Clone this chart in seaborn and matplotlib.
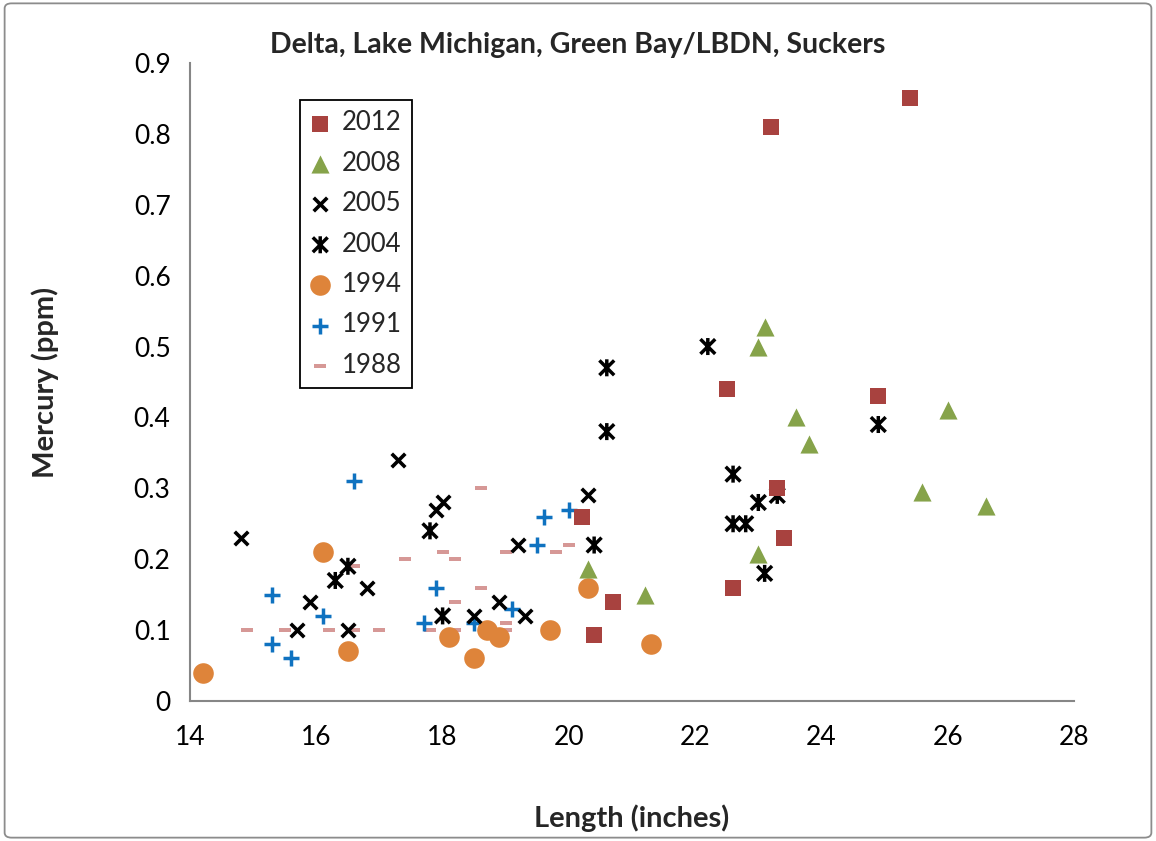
import numpy as np
import pandas as pd
import matplotlib
matplotlib.use("Agg")
import matplotlib.pyplot as plt
import matplotlib.patches as mpatches
from matplotlib.path import Path
from matplotlib.ticker import FixedLocator
import seaborn as sns

# data
x_2012 = [20.2, 20.4, 20.7, 22.5, 22.6, 23.2, 23.3, 23.4, 24.9, 25.4]
y_2012 = [0.26, 0.093, 0.14, 0.44, 0.16, 0.81, 0.30, 0.23, 0.43, 0.85]

x_2008 = [20.3, 21.2, 23.0, 23.0, 23.1, 23.6, 23.8, 25.6, 26.0, 26.6]
y_2008 = [0.186, 0.15, 0.207, 0.50, 0.527, 0.40, 0.362, 0.295, 0.41, 0.275]

x_2005 = [14.8, 15.7, 15.9, 16.5, 16.8, 17.3, 17.9, 18.0, 18.5, 18.9, 19.2, 19.3, 20.3]
y_2005 = [0.23, 0.10, 0.14, 0.10, 0.16, 0.34, 0.27, 0.28, 0.12, 0.14, 0.22, 0.12, 0.29]

x_2004 = [16.3, 16.5, 17.8, 18.0, 20.4, 20.6, 20.6, 22.2, 22.6, 22.6, 22.8, 23.0, 23.1, 23.3, 24.9]
y_2004 = [0.17, 0.19, 0.24, 0.12, 0.22, 0.38, 0.47, 0.50, 0.32, 0.25, 0.25, 0.28, 0.18, 0.29, 0.39]

x_1994 = [14.2, 16.1, 16.5, 18.1, 18.5, 18.7, 18.9, 19.7, 20.3, 21.3]
y_1994 = [0.04, 0.21, 0.07, 0.09, 0.06, 0.10, 0.09, 0.10, 0.16, 0.08]

x_1991 = [15.3, 15.3, 15.6, 16.1, 16.6, 17.7, 17.9, 18.5, 19.1, 19.5, 19.6, 20.0]
y_1991 = [0.15, 0.08, 0.06, 0.12, 0.31, 0.11, 0.16, 0.11, 0.13, 0.22, 0.26, 0.27]

x_1988 = [14.9, 15.5, 16.2, 16.6, 16.6, 17.0, 17.4, 17.8, 18.0, 18.2, 18.2, 18.2,
          18.6, 18.6, 19.0, 19.0, 19.0, 19.8, 20.0]
y_1988 = [0.10, 0.10, 0.10, 0.10, 0.19, 0.10, 0.20, 0.10, 0.21, 0.20, 0.14, 0.10,
          0.30, 0.16, 0.11, 0.10, 0.21, 0.21, 0.22]

years = ["2012", "2008", "2005", "2004", "1994", "1991", "1988"]
x_ticks = [14, 16, 18, 20, 22, 24, 26, 28]
y_ticks = [0, 0.1, 0.2, 0.3, 0.4, 0.5, 0.6, 0.7, 0.8, 0.9]
y_tick_labels = ["0", "0.1", "0.2", "0.3", "0.4", "0.5", "0.6", "0.7", "0.8", "0.9"]

# Excel-like markers
asterisk = Path([(-1, -1), (1, 1), (-1, 1), (1, -1), (0, -1.15), (0, 1.15)],
                [Path.MOVETO, Path.LINETO, Path.MOVETO, Path.LINETO, Path.MOVETO, Path.LINETO])
dash = Path([(-1, -0.38), (1, -0.38), (1, 0.38), (-1, 0.38), (-1, -0.38)],
            [Path.MOVETO, Path.LINETO, Path.LINETO, Path.LINETO, Path.CLOSEPOLY])

series = {
    "2012": (x_2012, y_2012, dict(marker="s", color="#A8423F", s=120, linewidth=0)),
    "2008": (x_2008, y_2008, dict(marker="^", color="#86A34A", s=170, linewidth=0)),
    "2005": (x_2005, y_2005, dict(marker="x", color="black", s=95, linewidth=2.6)),
    "2004": (x_2004, y_2004, dict(marker=asterisk, facecolor="none", edgecolor="black", s=150, linewidth=2.5)),
    "1994": (x_1994, y_1994, dict(marker="o", color="#DE843A", s=220, linewidth=0)),
    "1991": (x_1991, y_1991, dict(marker="+", color="#0F72C0", s=120, linewidth=2.5)),
    "1988": (x_1988, y_1988, dict(marker=dash, color="#D69896", s=85, linewidth=0)),
}

sns.set_style("white")
plt.rcParams["font.family"] = ["Lato", "DejaVu Sans"]

fig = plt.figure(figsize=(11.56, 8.41), dpi=100)
ax = fig.add_axes([0.1644, 0.1665, 0.7647, 0.7586])

# draw oldest first so later years sit on top like Excel
for yr in reversed(years):
    xs, ys, kw = series[yr]
    df = pd.DataFrame({"Length": xs, "Mercury": ys})
    sns.scatterplot(data=df, x="Length", y="Mercury", ax=ax, label=yr, zorder=3, **kw)

ax.set_xlim(14, 28)
ax.set_ylim(0, 0.9)
ax.xaxis.set_major_locator(FixedLocator(x_ticks))
ax.set_yticks(y_ticks)
ax.set_yticklabels(y_tick_labels)
ax.tick_params(axis="both", direction="out", length=8, width=1.3, color="#868686",
               labelsize=19, colors="black", pad=6)
ax.tick_params(axis="x", pad=9)

for side in ["top", "right"]:
    ax.spines[side].set_visible(False)
for side in ["left", "bottom"]:
    ax.spines[side].set_color("#868686")
    ax.spines[side].set_linewidth(1.5)

ax.set_xlabel("Length (inches)", fontsize=21, fontweight="bold", va="center")
ax.set_ylabel("Mercury (ppm)", fontsize=21, fontweight="bold", va="center")
ax.xaxis.set_label_coords(0.5, -0.183)
ax.yaxis.set_label_coords(-0.164, 0.5)
fig.text(0.5, 0.9465, "Delta, Lake Michigan, Green Bay/LBDN, Suckers",
         ha="center", va="center", fontsize=20.5, fontweight="bold")

handles, labels = ax.get_legend_handles_labels()
order = [labels.index(y) for y in years]
leg = ax.legend([handles[i] for i in order], [labels[i] for i in order],
                loc="upper left", bbox_to_anchor=(0.124, 0.942), fontsize=18.5,
                frameon=True, fancybox=False, edgecolor="black", framealpha=1,
                labelspacing=0.6, handlelength=0.8, handletextpad=0.45,
                borderpad=0.4, borderaxespad=0)
leg.get_frame().set_linewidth(1.3)

# chart area border
fig.patches.append(mpatches.FancyBboxPatch((0.004, 0.004), 0.992, 0.992,
                                           boxstyle="round,pad=0,rounding_size=0.006",
                                           transform=fig.transFigure, fill=False,
                                           edgecolor="#8C8C8C", linewidth=1.3))

fig.savefig("out.png", dpi=100)
